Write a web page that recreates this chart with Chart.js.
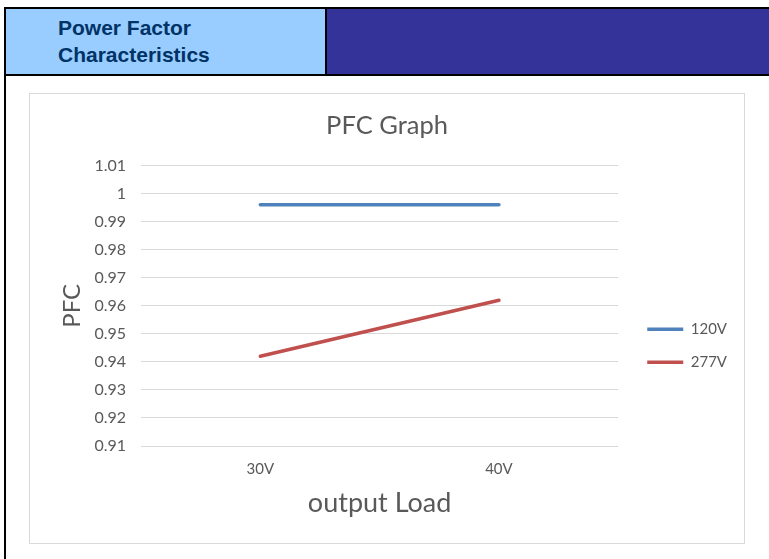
<!DOCTYPE html>
<html>
<head>
<meta charset="utf-8">
<script src="https://cdn.jsdelivr.net/npm/chart.js@4"></script>
<style>
    body { margin: 0; background: #ffffff; width: 769px; height: 559px; overflow: hidden; position: relative; }
    .frame { position: absolute; left: 4px; top: 7px; width: 800px; height: 600px; border-left: 2px solid #000; border-top: 2px solid #000; }
    .head-left { position: absolute; left: 6px; top: 9px; width: 319px; height: 65px; background: #99ccff; border-right: 2px solid #000; }
    .head-left div { position: absolute; left: 52px; top: 5px; font: bold 21px "Liberation Sans", Arial, sans-serif; line-height: 27px; color: #003366; }
    .head-right { position: absolute; left: 327px; top: 9px; width: 442px; height: 65px; background: #333399; }
    .head-rule { position: absolute; left: 6px; top: 74px; width: 763px; height: 2px; background: #000; }
    .chart-box { position: absolute; left: 29px; top: 93px; width: 714px; height: 449px; border: 1px solid #d9d9d9; }
</style>
</head>
<body>
<div class="frame"></div>
<div class="head-left"><div>Power Factor<br>Characteristics</div></div>
<div class="head-right"></div>
<div class="head-rule"></div>
<div class="chart-box"><canvas id="pfcChart"></canvas></div>

<script>
const loadLabels = ['30V', '40V'];
const pfc120 = [0.996, 0.996];
const pfc277 = [0.942, 0.962];
const yMin = 0.91;
const yMax = 1.01;
const yStep = 0.01;

const textGrey = '#595959';
const fontFamily = 'Lato, "Open Sans", sans-serif';

document.addEventListener('DOMContentLoaded', function() {
    initPfcChart();
});

function initPfcChart() {
    const ctx = document.getElementById('pfcChart');
    if (!ctx) return;

    new Chart(ctx, {
        type: 'line',
        data: {
            labels: loadLabels,
            datasets: [{
                label: '120V',
                data: pfc120,
                borderColor: '#4f81bd',
                backgroundColor: '#4f81bd',
                borderWidth: 3.5,
                borderCapStyle: 'round',
                pointRadius: 0,
                tension: 0
            }, {
                label: '277V',
                data: pfc277,
                borderColor: '#c0504d',
                backgroundColor: '#c0504d',
                borderWidth: 3.5,
                borderCapStyle: 'round',
                pointRadius: 0,
                tension: 0
            }]
        },
        options: {
            responsive: true,
            maintainAspectRatio: false,
            animation: false,
            layout: {
                padding: { left: 7, right: 7, top: 0, bottom: 0 }
            },
            plugins: {
                title: {
                    display: true,
                    text: 'PFC Graph',
                    color: textGrey,
                    font: { family: fontFamily, size: 25.5, weight: 'normal' },
                    padding: { top: 16, bottom: 25 }
                },
                legend: {
                    position: 'right',
                    fullSize: false,
                    title: {
                        display: true,
                        text: ' ',
                        font: { size: 10 },
                        padding: { top: 68, bottom: 0 }
                    },
                    labels: {
                        usePointStyle: true,
                        pointStyle: 'line',
                        pointStyleWidth: 36,
                        padding: 18,
                        color: textGrey,
                        font: { family: fontFamily, size: 15 }
                    }
                },
                tooltip: { enabled: false }
            },
            scales: {
                x: {
                    offset: true,
                    grid: { display: false, drawTicks: false },
                    border: { display: false },
                    ticks: {
                        color: textGrey,
                        padding: 14,
                        font: { family: fontFamily, size: 15 }
                    },
                    title: {
                        display: true,
                        text: 'output Load',
                        color: textGrey,
                        font: { family: fontFamily, size: 27 },
                        padding: { top: 0, bottom: 24 }
                    },
                    afterFit: function(scale) { scale.height = 97; }
                },
                y: {
                    min: yMin,
                    max: yMax,
                    grid: { color: '#d9d9d9', drawTicks: false },
                    border: { display: false },
                    ticks: {
                        stepSize: yStep,
                        color: textGrey,
                        padding: 15,
                        font: { family: fontFamily, size: 16 },
                        callback: function(value) { return String(Number(value.toFixed(2))); }
                    },
                    title: {
                        display: true,
                        text: 'PFC',
                        color: textGrey,
                        font: { family: fontFamily, size: 24 },
                        padding: { top: 21, bottom: 0 }
                    },
                    afterFit: function(scale) { scale.width = 104; }
                },
                // empty axis: keeps the gap between plot and legend
                gap: {
                    position: 'right',
                    grid: { display: false },
                    border: { display: false },
                    ticks: { display: false },
                    afterFit: function(scale) { scale.width = 11; }
                }
            }
        }
    });
}
</script>
</body>
</html>
